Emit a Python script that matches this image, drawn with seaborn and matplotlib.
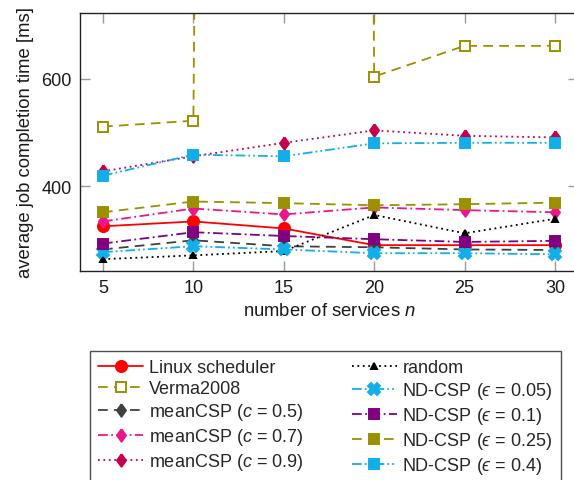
import matplotlib
matplotlib.use("Agg")
import matplotlib.pyplot as plt
import seaborn as sns
import pandas as pd

sns.set_theme(style="white")
plt.rcParams['font.family'] = ['Liberation Sans', 'DejaVu Sans']
plt.rcParams['mathtext.fontset'] = 'custom'
plt.rcParams['mathtext.rm'] = 'Liberation Sans'
plt.rcParams['mathtext.it'] = 'Liberation Sans:italic'
plt.rcParams['mathtext.fallback'] = 'cm'
plt.rcParams['lines.scale_dashes'] = False

n_services = [5, 10, 15, 20, 25, 30]

linux = [326, 335, 322, 291, 291, 291]
verma = [511, 522, 20000, 604, 661, 661]
mean05 = [283, 300, 289, 287, 283, 282]
mean07 = [335, 359, 348, 361, 356, 352]
mean09 = [428, 456, 481, 504, 494, 491]
random_ = [265, 272, 280, 347, 313, 340]
nd005 = [278, 289, 283, 276, 276, 274]
nd01 = [294, 315, 308, 302, 297, 299]
nd025 = [352, 372, 369, 365, 367, 370]
nd04 = [420, 459, 456, 480, 481, 481]

labels = ["Linux scheduler", "Verma2008", r"meanCSP ($c$ = 0.5)", r"meanCSP ($c$ = 0.7)",
          r"meanCSP ($c$ = 0.9)", "random", "ND-CSP ($\u03f5$ = 0.05)",
          "ND-CSP ($\u03f5$ = 0.1)", "ND-CSP ($\u03f5$ = 0.25)", "ND-CSP ($\u03f5$ = 0.4)"]
series = [linux, verma, mean05, mean07, mean09, random_, nd005, nd01, nd025, nd04]

red = "#ff0000"
olive = "#9a9000"
gray = "#404040"
pink = "#ec168c"
dred = "#c2004e"
cyan = "#12aeea"
purple = "#800080"

dotted = (0, (1.3, 2.6))
dashed = (0, (7, 4.5))
dashdot = (0, (7, 2.5, 1.3, 2.5))
dashdotdot = (0, (7, 2.2, 1.3, 2.2, 1.3, 2.2))
diamond = [(0, 1), (0.72, 0), (0, -1), (-0.72, 0), (0, 1)]

styles = [
    dict(color=red, linestyle='-', marker='o', ms=8, mfc=red),
    dict(color=olive, linestyle=dashed, marker='s', ms=7.5, mfc='white'),
    dict(color=gray, linestyle=dashed, marker=diamond, ms=9, mfc=gray),
    dict(color=pink, linestyle=dashdot, marker=diamond, ms=9, mfc=pink),
    dict(color=dred, linestyle=dotted, marker=diamond, ms=9, mfc=dred),
    dict(color='black', linestyle=dotted, marker='^', ms=4.5, mfc='black'),
    dict(color=cyan, linestyle=dashdotdot, marker='X', ms=8, mfc=cyan),
    dict(color=purple, linestyle=dashdot, marker='s', ms=7.5, mfc=purple),
    dict(color=olive, linestyle=dashed, marker='s', ms=7.5, mfc=olive),
    dict(color=cyan, linestyle=dashdotdot, marker='s', ms=7.5, mfc=cyan),
]

fig = plt.figure(figsize=(5.74, 4.81), dpi=100)
ax = fig.add_axes([80/574, (481-272)/481, 498/574, 258/481])

for lab, vals, st in zip(labels, series, styles):
    df = pd.DataFrame({"n": n_services, "t": vals})
    sns.lineplot(data=df, x="n", y="t", ax=ax, color=st['color'], linestyle=st['linestyle'],
                 marker=st['marker'], markersize=st['ms'], markerfacecolor=st['mfc'],
                 markeredgecolor=st['color'], markeredgewidth=1.4, linewidth=1.3,
                 label=lab, legend=False)

ax.set_xlim(3.73, 31.27)
ax.set_ylim(243, 722)
ax.set_xticks(n_services)
ax.set_yticks([400, 600])
ax.tick_params(axis='both', which='major', direction='in', length=7, width=1,
               color='#9a9a9a', labelsize=13, labelcolor='#1a1a1a',
               top=True, right=True, bottom=True, left=True, pad=6)
for s in ax.spines.values():
    s.set_color('#222222')
    s.set_linewidth(1.0)
ax.set_xlabel("number of services $n$", fontsize=13.3, color='#1a1a1a', labelpad=4)
ax.set_ylabel("average job completion time [ms]", fontsize=13.3, color='#1a1a1a', labelpad=5)

handles, labs = ax.get_legend_handles_labels()
leg = fig.legend(handles, labs, ncol=2, loc='upper left',
                 bbox_to_anchor=(90/574, 1 - 352/481), bbox_transform=fig.transFigure,
                 borderaxespad=0,
                 fontsize=13, frameon=True, fancybox=False, edgecolor='#222222',
                 numpoints=1, handlelength=2.5, columnspacing=2.7, labelspacing=0.22,
                 borderpad=0.45, handletextpad=0.3)
leg.get_frame().set_linewidth(1.0)

fig.savefig("out.png", dpi=100)
